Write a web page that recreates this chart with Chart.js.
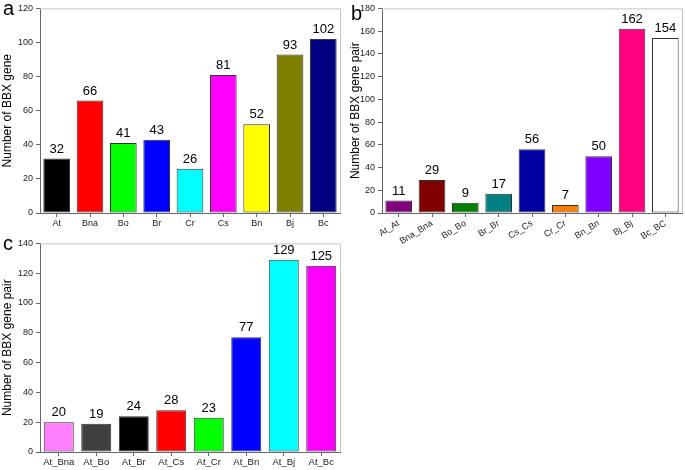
<!DOCTYPE html>
<html>
<head>
<meta charset="utf-8">
<script src="https://cdn.jsdelivr.net/npm/chart.js@4.4.1/dist/chart.umd.min.js"></script>
<style>
  body { margin: 0; background: #fff; width: 685px; height: 470px; position: relative; overflow: hidden; }
  canvas { position: absolute; }
  .lbl { position: absolute; font: 20px "Liberation Sans", Arial, sans-serif; line-height: 20px; color: #000; }
</style>
</head>
<body>
<canvas id="graficaA" width="342" height="235" style="left:0;top:0"></canvas>
<canvas id="graficaB" width="343" height="260" style="left:342px;top:0"></canvas>
<canvas id="graficaC" width="342" height="235" style="left:0;top:235px"></canvas>
<div class="lbl" style="left:3px;top:-2px">a</div>
<div class="lbl" style="left:351px;top:3px">b</div>
<div class="lbl" style="left:3px;top:233px">c</div>
<script>
// panel a
const catsA = ['At', 'Bna', 'Bo', 'Br', 'Cr', 'Cs', 'Bn', 'Bj', 'Bc'];
const valsA = [32, 66, 41, 43, 26, 81, 52, 93, 102];
const colorsA = ['#000000', '#FF0000', '#00FF00', '#0000FF', '#00FFFF', '#FF00FF', '#FFFF00', '#808000', '#000080'];

// panel b
const catsB = ['At_At', 'Bna_Bna', 'Bo_Bo', 'Br_Br', 'Cs_Cs', 'Cr_Cr', 'Bn_Bn', 'Bj_Bj', 'Bc_BC'];
const valsB = [11, 29, 9, 17, 56, 7, 50, 162, 154];
const colorsB = ['#800080', '#800000', '#008000', '#008080', '#0000A0', '#FF8000', '#8000FF', '#FF0080', '#FFFFFF'];

// panel c
const catsC = ['At_Bna', 'At_Bo', 'At_Br', 'At_Cs', 'At_Cr', 'At_Bn', 'At_Bj', 'At_Bc'];
const valsC = [20, 19, 24, 28, 23, 77, 129, 125];
const colorsC = ['#FF80FF', '#404040', '#000000', '#FF0000', '#00FF00', '#0000FF', '#00FFFF', '#FF00FF'];

const FONT = '"Liberation Sans", Arial, sans-serif';

// numeros encima de las barras + marco gris
const etiquetas = {
    id: 'etiquetas',
    afterDatasetsDraw(chart) {
        const ctx = chart.ctx;
        const area = chart.chartArea;
        ctx.save();
        ctx.strokeStyle = '#c4c4c4';
        ctx.lineWidth = 1;
        ctx.beginPath();
        ctx.moveTo(area.left, area.top + 0.5);
        ctx.lineTo(area.right + 0.5, area.top + 0.5);
        ctx.lineTo(area.right + 0.5, area.bottom);
        ctx.stroke();

        ctx.fillStyle = '#000';
        ctx.font = '13px ' + FONT;
        ctx.textAlign = 'center';
        ctx.textBaseline = 'bottom';
        const ds = chart.data.datasets[0];
        chart.getDatasetMeta(0).data.forEach((bar, i) => {
            ctx.fillText(ds.data[i], bar.x, bar.y - 3);
        });
        ctx.restore();
    }
};

function dibujarPanel(canvasId, labels, values, colors, yMax, yTitle, opts) {
    const ctx = document.getElementById(canvasId).getContext('2d');
    new Chart(ctx, {
        type: 'bar',
        data: {
            labels: labels,
            datasets: [{
                data: values,
                backgroundColor: colors,
                borderColor: '#333',
                borderWidth: 1,
                borderSkipped: false,
                barPercentage: 0.8,
                categoryPercentage: 1
            }]
        },
        options: {
            responsive: false,
            animation: false,
            layout: { padding: opts.padding },
            plugins: { legend: { display: false }, tooltip: { enabled: false } },
            scales: {
                x: {
                    afterFit: s => { s.height = opts.xHeight; },
                    grid: { offset: false, drawOnChartArea: false, tickLength: 4, color: '#666' },
                    border: { display: true, color: '#666' },
                    ticks: {
                        color: '#222', padding: 1,
                        font: { family: FONT, size: opts.xFont },
                        minRotation: opts.rot, maxRotation: opts.rot, autoSkip: false
                    }
                },
                y: {
                    min: 0, max: yMax,
                    afterFit: s => { s.width = 40; },
                    grid: { drawOnChartArea: false, tickLength: 4, color: '#666' },
                    border: { display: true, color: '#666' },
                    ticks: { stepSize: 20, color: '#222', padding: 3, font: { family: FONT, size: 9 } },
                    title: {
                        display: true, text: yTitle, color: '#000',
                        padding: { top: opts.titlePad, bottom: 0 },
                        font: { family: FONT, size: 12 }
                    }
                }
            }
        },
        plugins: [etiquetas]
    });
}

dibujarPanel('graficaA', catsA, valsA, colorsA, 120, 'Number of BBX gene',
    { padding: { left: 0, top: 5, right: 2, bottom: 0 }, xHeight: 22, xFont: 9, rot: 0, titlePad: 0 });
dibujarPanel('graficaB', catsB, valsB, colorsB, 180, 'Number of BBX gene pair',
    { padding: { left: 0, top: 5, right: 3, bottom: 0 }, xHeight: 47, xFont: 9, rot: 32, titlePad: 6 });
dibujarPanel('graficaC', catsC, valsC, colorsC, 140, 'Number of BBX gene pair',
    { padding: { left: 0, top: 8, right: 2, bottom: 0 }, xHeight: 18, xFont: 9.5, rot: 0, titlePad: 0 });
</script>
</body>
</html>
